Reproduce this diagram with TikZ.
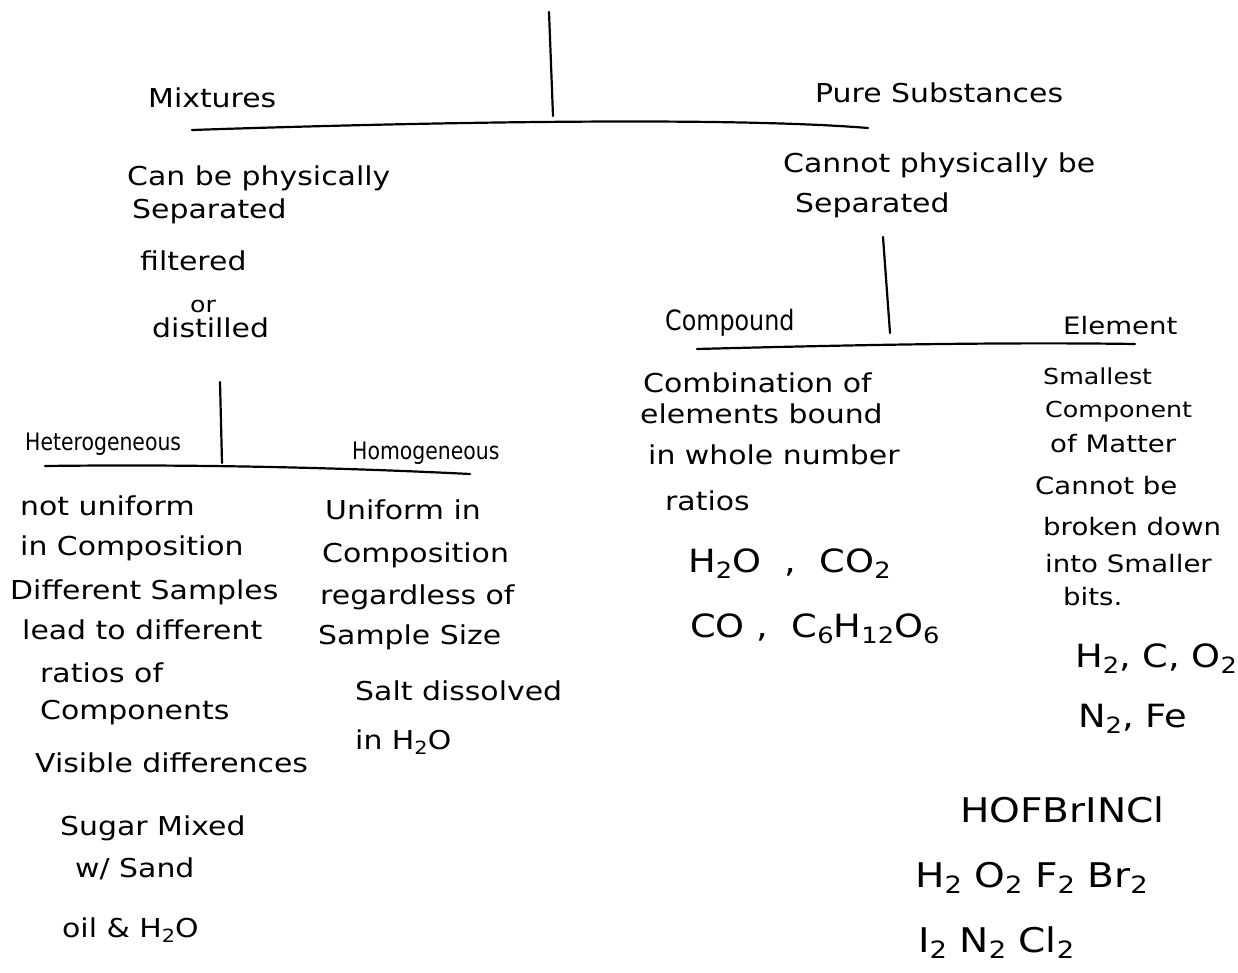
\documentclass[tikz,border=0pt]{standalone}
\usepackage{fontspec}
\newfontfamily\hand[FakeStretch=1.15]{DejaVu Sans}
\newfontfamily\handc[FakeStretch=0.85]{DejaVu Sans}
\newcommand\sbs[1]{\raisebox{-0.35ex}{\scalebox{0.7}{#1}}}
\tikzset{
  txt/.style={anchor=mid west, inner sep=0pt, yshift=-5pt, font=\hand\fontsize{26}{30}\selectfont},
  hd/.style={txt, font=\hand\fontsize{26}{30}\selectfont},
  sub/.style={txt, font=\hand\fontsize{22}{26}\selectfont},
  cond/.style={txt, font=\handc\fontsize{24}{28}\selectfont},
  el/.style={txt, font=\hand\fontsize{24}{28}\selectfont},
  chem/.style={txt, font=\hand\fontsize{32}{36}\selectfont},
  big/.style={txt, font=\hand\fontsize{34}{38}\selectfont},
  branch/.style={line width=2.2pt, line cap=round, line join=round}
}
\begin{document}
\begin{tikzpicture}[x=1pt,y=-1pt]
\fill[white] (0,0) rectangle (1238,973);
\useasboundingbox (0,0) rectangle (1238,973);

% tree coordinates
\coordinate (t0) at (549,12);
\coordinate (t1) at (553,116);
\coordinate (h0) at (192,130);
\coordinate (h1) at (868,128);
\coordinate (r0) at (883,237);
\coordinate (r1) at (890,333);
\coordinate (rh0) at (697,349);
\coordinate (rh1) at (1135,344);
\coordinate (l0) at (220,382);
\coordinate (l1) at (222,463);
\coordinate (lh0) at (45,466);
\coordinate (lh1) at (470,474);

\draw[branch] (t0) -- (t1);
\draw[branch] (h0) .. controls (400,123) and (720,116) .. (h1);
\draw[branch] (r0) -- (r1);
\draw[branch] (rh0) .. controls (850,345) and (1000,342) .. (rh1);
\draw[branch] (l0) -- (l1);
\draw[branch] (lh0) .. controls (200,464) and (350,468) .. (lh1);

% headings
\node[hd] (mix) at (148,100) {Mixtures};
\node[hd] (pure) at (815,95) {Pure Substances};

% mixtures description
\node[txt] (cb1) at (127,178) {Can be physically};
\node[txt] (cb2) at (132,211) {Separated};
\node[txt] (fil) at (140,263) {filtered};
\node[sub] (or) at (190,305) {or};
\node[txt] (dis) at (152,330) {distilled};

% pure description
\node[txt] (cp1) at (783,165) {Cannot physically be};
\node[txt] (cp2) at (795,205) {Separated};

% sub headings
\node[cond, font=\handc\fontsize{28}{32}\selectfont] (comp) at (665,323) {Compound};
\node[el] (elem) at (1063,327) {Element};
\node[cond] (het) at (25,443) {Heterogeneous};
\node[cond] (hom) at (352,452) {Homogeneous};

% heterogeneous list
\node[txt] (he1) at (20,508) {not uniform};
\node[txt] (he2) at (20,548) {in Composition};
\node[txt] (he3) at (10,592) {Different Samples};
\node[txt] (he4) at (22,632) {lead to different};
\node[txt] (he5) at (40,675) {ratios of};
\node[txt] (he6) at (40,712) {Components};
\node[txt] (he7) at (35,765) {Visible differences};
\node[txt] (he8) at (60,828) {Sugar Mixed};
\node[txt] (he9) at (75,870) {w/ Sand};
\node[txt] (he10) at (62,930) {oil \& H\sbs{2}O};

% homogeneous list
\node[txt] (ho1) at (325,512) {Uniform in};
\node[txt] (ho2) at (322,555) {Composition};
\node[txt] (ho3) at (320,597) {regardless of};
\node[txt] (ho4) at (318,637) {Sample Size};
\node[txt] (ho5) at (355,693) {Salt dissolved};
\node[txt] (ho6) at (355,742) {in H\sbs{2}O};

% compound list
\node[txt] (co1) at (643,385) {Combination of};
\node[txt] (co2) at (640,416) {elements bound};
\node[txt] (co3) at (648,457) {in whole number};
\node[txt] (co4) at (665,503) {ratios};
\node[chem] (co5) at (688,565) {H\sbs{2}O\ \ ,\ \ CO\sbs{2}};
\node[chem] (co6) at (690,630) {CO\ ,\ \ C\sbs{6}H\sbs{12}O\sbs{6}};

% element list
\node[sub] (e1) at (1043,377) {Smallest};
\node[sub] (e2) at (1045,410) {Component};
\node[el] (e3) at (1050,445) {of Matter};
\node[el] (e4) at (1035,487) {Cannot be};
\node[el] (e5) at (1043,528) {broken down};
\node[el] (e6) at (1045,565) {into Smaller};
\node[el] (e7) at (1063,598) {bits.};
\node[chem] (e8) at (1075,660) {H\sbs{2}, C, O\sbs{2}};
\node[chem] (e9) at (1078,720) {N\sbs{2}, Fe};

% diatomic
\node[big] (d1) at (960,815) {HOFBrINCl};
\node[big] (d2) at (915,880) {H\sbs{2} O\sbs{2} F\sbs{2} Br\sbs{2}};
\node[big] (d3) at (918,945) {I\sbs{2} N\sbs{2} Cl\sbs{2}};
\end{tikzpicture}
\end{document}
